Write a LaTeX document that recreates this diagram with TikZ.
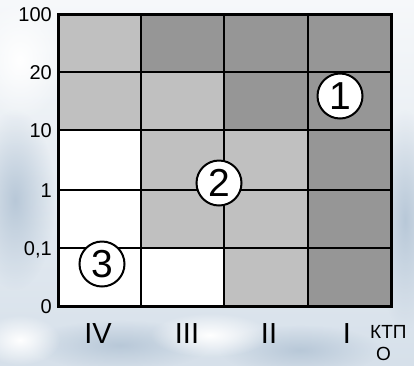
\documentclass[tikz,border=0pt]{standalone}
\usepackage{fontspec}
\setmainfont{Liberation Sans}
\usetikzlibrary{fadings}
\tikzfading[name=softblob,inner color=transparent!0,outer color=transparent!100]
\definecolor{lg}{RGB}{192,192,192}
\definecolor{dg}{RGB}{150,150,150}
\definecolor{skyA}{RGB}{246,248,250}
\definecolor{skyB}{RGB}{214,224,234}
\definecolor{skyC}{RGB}{184,200,216}
\begin{document}
\begin{tikzpicture}[x=1pt,y=-1pt,
  cellL/.style={fill=lg},
  cellD/.style={fill=dg},
  cellW/.style={fill=white},
  gridline/.style={line width=2.2pt,draw=black},
  border/.style={line width=3pt,draw=black},
  ylab/.style={anchor=base east,inner sep=0pt,font=\fontsize{20pt}{24pt}\selectfont},
  xlab/.style={anchor=base,inner sep=0pt,font=\fontsize{29pt}{34pt}\selectfont},
  unitlab/.style={anchor=base west,inner sep=0pt,font=\fontsize{19pt}{23pt}\selectfont},
  zone/.style={circle,draw=black,line width=2pt,fill=white,minimum size=45pt,inner sep=0pt,font=\fontsize{39pt}{46pt}\selectfont}]
\useasboundingbox (0,0) rectangle (414,365);
\clip (0,0) rectangle (414,365);
% sky background
\shade[top color=skyA,bottom color=skyB] (0,0) rectangle (414,365);
\fill[skyC,path fading=softblob] (15,200) ellipse (40 and 90);
\fill[skyC,path fading=softblob] (405,220) ellipse (30 and 110);
\fill[skyC,path fading=softblob] (120,345) ellipse (90 and 25);
\fill[skyC,path fading=softblob] (300,350) ellipse (80 and 25);
\fill[white,path fading=softblob] (20,60) ellipse (45 and 60);
\fill[white,path fading=softblob] (210,335) ellipse (60 and 22);
\fill[white,path fading=softblob] (20,340) ellipse (40 and 25);
% cells row 1
\fill[cellL] (58,14) rectangle (141,72);
\fill[cellD] (141,14) rectangle (224,72);
\fill[cellD] (224,14) rectangle (308,72);
\fill[cellD] (308,14) rectangle (391,72);
% row 2
\fill[cellL] (58,72) rectangle (141,130);
\fill[cellL] (141,72) rectangle (224,130);
\fill[cellD] (224,72) rectangle (308,130);
\fill[cellD] (308,72) rectangle (391,130);
% row 3
\fill[cellW] (58,130) rectangle (141,190);
\fill[cellL] (141,130) rectangle (224,190);
\fill[cellL] (224,130) rectangle (308,190);
\fill[cellD] (308,130) rectangle (391,190);
% row 4
\fill[cellW] (58,190) rectangle (141,248);
\fill[cellL] (141,190) rectangle (224,248);
\fill[cellL] (224,190) rectangle (308,248);
\fill[cellD] (308,190) rectangle (391,248);
% row 5
\fill[cellW] (58,248) rectangle (141,306);
\fill[cellW] (141,248) rectangle (224,306);
\fill[cellL] (224,248) rectangle (308,306);
\fill[cellD] (308,248) rectangle (391,306);
% grid lines
\foreach \xx in {141,224,308} \draw[gridline] (\xx,14) -- (\xx,306);
\foreach \yy in {72,130,190,248} \draw[gridline] (58,\yy) -- (391,\yy);
\draw[border] (58,14) rectangle (391,306);
% y labels
\node[ylab] (y100) at (52,21.2) {100};
\node[ylab] (y20) at (52,79.2) {20};
\node[ylab] (y10) at (52,137.2) {10};
\node[ylab] (y1) at (52,197.2) {1};
\node[ylab] (y01) at (52,255.2) {0,1};
\node[ylab] (y0) at (52,313.2) {0};
% x labels
\node[xlab] (cIV) at (98,343) {IV};
\node[xlab] (cIII) at (187,343) {III};
\node[xlab] (cII) at (269,343) {II};
\node[xlab] (cI) at (347,343) {I};
\node[unitlab] (ktp) at (370,338.5) {КТП};
\node[unitlab] (ktpo) at (376,360.5) {О};
% zones
\node[zone] (z1) at (340,96) {1};
\node[zone] (z2) at (219,183) {2};
\node[zone] (z3) at (102,264) {3};
\end{tikzpicture}
\end{document}
